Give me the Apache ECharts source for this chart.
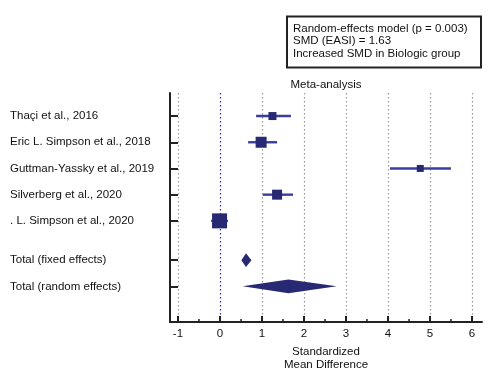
<!DOCTYPE html>
<html>
<head>
<meta charset="utf-8">
<script src="https://cdn.jsdelivr.net/npm/echarts@6/dist/echarts.min.js"></script>
<style>html,body{margin:0;padding:0;background:#fff;}#c{width:492px;height:371px;}</style>
</head>
<body>
<div id="c"></div>
<script>
// ---- data ----
const studies = ['Thaçi et al., 2016', 'Eric L. Simpson et al., 2018', 'Guttman-Yassky et al., 2019', 'Silverberg et al., 2020', '. L. Simpson et al., 2020'];
const smd     = [1.25, 0.98, 4.77, 1.36, -0.01];
const ciLow   = [0.86, 0.67, 4.05, 1.02, -0.21];
const ciHigh  = [1.69, 1.36, 5.50, 1.74, 0.19];
const weights = [8, 11, 7, 10, 15];
const totals  = ['Total (fixed effects)', 'Total (random effects)'];
const totalEst  = [0.62, 1.63];
const totalLow  = [0.51, 0.54];
const totalHigh = [0.75, 2.78];
const xTicks = [-1, 0, 1, 2, 3, 4, 5, 6];
const legendLines = ['Random-effects model (p = 0.003)', 'SMD (EASI) = 1.63', 'Increased SMD in Biologic group'];

// ---- layout helpers ----
const studyRows = studies.map((s, i) => i);
const totalRows = [5.5, 6.5];
const rowLabels = {};
studies.forEach((s, i) => rowLabels[studyRows[i]] = s);
totals.forEach((s, i) => rowLabels[totalRows[i]] = s);
const rowVals = studyRows.concat(totalRows);
const minorTicks = [];
for (let i = 0; i < xTicks.length - 1; i++) minorTicks.push((xTicks[i] + xTicks[i + 1]) / 2);

const FONT = 'Liberation Sans, Arial, sans-serif';
const NAVY = '#272a73';
const LINE = '#3a3e9c';

const chart = echarts.init(document.getElementById('c'));
chart.setOption({
  animation: false,
  backgroundColor: '#fff',
  textStyle: { fontFamily: FONT },
  grid: { left: 170, right: 10, top: 93, bottom: 49, containLabel: false, outerBoundsMode: 'none' },
  xAxis: [{
    type: 'value', min: -1.19, max: 6.24,
    axisLine: { show: true, onZero: false, lineStyle: { color: '#222', width: 2 } },
    axisTick: { show: true, inside: true, length: 6, customValues: xTicks, lineStyle: { color: '#222', width: 2 } },
    axisLabel: { show: true, customValues: xTicks, margin: 6, color: '#111', fontSize: 11.5, fontFamily: FONT },
    splitLine: { show: true, lineStyle: { type: [1.5, 2.5], width: 1.2,
      color: xTicks.map(v => v === 0 ? '#2b2ba8' : '#999') } },
    name: 'Standardized\nMean Difference', nameLocation: 'middle', nameGap: 20,
    nameTextStyle: { color: '#111', fontSize: 11.5, lineHeight: 13, fontFamily: FONT }
  }, {
    type: 'value', min: -1.19, max: 6.24, position: 'bottom',
    axisLine: { show: false, onZero: false },
    axisTick: { show: true, inside: true, length: 3, customValues: minorTicks, lineStyle: { color: '#222', width: 1.5 } },
    axisLabel: { show: false },
    splitLine: { show: false }
  }],
  yAxis: {
    type: 'value', inverse: true, min: -0.88, max: 7.86,
    axisLine: { show: true, onZero: false, lineStyle: { color: '#222', width: 2 } },
    axisTick: { show: true, inside: true, length: 8, customValues: rowVals, lineStyle: { color: '#222', width: 2 } },
    axisLabel: { show: true, customValues: rowVals, align: 'left', margin: 160, color: '#111', fontSize: 11.5, fontFamily: FONT,
      formatter: v => rowLabels[v] || '' },
    splitLine: { show: false }
  },
  graphic: [
    { type: 'rect', shape: { x: 287, y: 16.5, width: 194, height: 51 }, style: { fill: '#fff', stroke: '#222', lineWidth: 2 } },
    ...legendLines.map((t, i) => ({ type: 'text', x: 293, y: 28.5 + i * 12.5,
      style: { text: t, fill: '#111', font: '11.5px ' + FONT, textVerticalAlign: 'middle' } })),
    { type: 'text', x: 326, y: 85, style: { text: 'Meta-analysis', fill: '#111', font: '11.5px ' + FONT, textAlign: 'center', textVerticalAlign: 'middle' } }
  ],
  series: [
    {
      type: 'custom', name: 'ci', xAxisIndex: 0, yAxisIndex: 0,
      data: studies.map((s, i) => [ciLow[i], ciHigh[i], studyRows[i]]),
      renderItem: (params, api) => {
        const a = api.coord([api.value(0), api.value(2)]);
        const b = api.coord([api.value(1), api.value(2)]);
        return { type: 'line', shape: { x1: a[0], y1: a[1], x2: b[0], y2: b[1] }, style: { stroke: LINE, lineWidth: 2.4 } };
      },
      z: 3
    },
    {
      type: 'scatter', name: 'est', xAxisIndex: 0, yAxisIndex: 0, symbol: 'rect',
      data: studies.map((s, i) => ({ value: [smd[i], studyRows[i]], symbolSize: weights[i] })),
      itemStyle: { color: NAVY, opacity: 1 },
      z: 4
    },
    {
      type: 'custom', name: 'totals', xAxisIndex: 0, yAxisIndex: 0,
      data: totals.map((s, i) => [totalLow[i], totalEst[i], totalHigh[i], totalRows[i]]),
      renderItem: (params, api) => {
        const y = api.value(3);
        const l = api.coord([api.value(0), y]);
        const m = api.coord([api.value(1), y]);
        const r = api.coord([api.value(2), y]);
        const h = 6.8;
        return { type: 'polygon', shape: { points: [[l[0], l[1]], [m[0], m[1] - h], [r[0], r[1]], [m[0], m[1] + h]] },
          style: { fill: NAVY } };
      },
      z: 4
    }
  ]
});
</script>
</body>
</html>
